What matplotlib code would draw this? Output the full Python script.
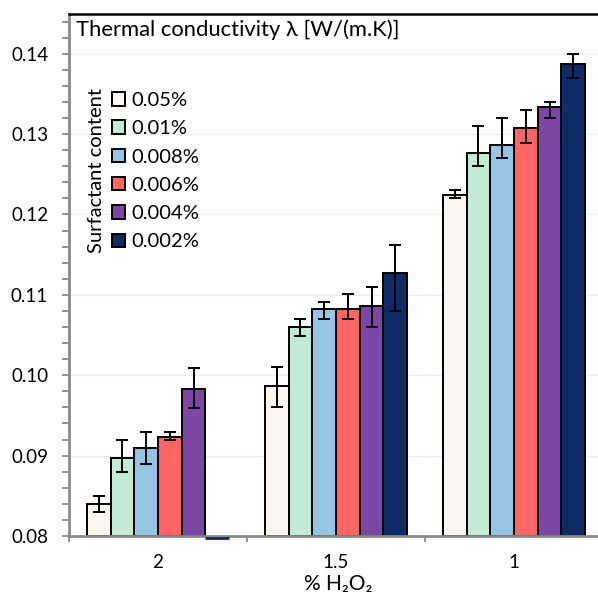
import numpy as np
import matplotlib
matplotlib.use("Agg")
import matplotlib.pyplot as plt

plt.rcParams['font.family'] = ['Lato', 'DejaVu Sans']

# H2O2 concentration groups (x categories)
h2o2 = ["2", "1.5", "1"]
# surfactant content series
surfactant = ["0.05%", "0.01%", "0.008%", "0.006%", "0.004%", "0.002%"]
colors = ["#fcf6f1", "#c2ead4", "#96c5e4", "#ff6565", "#7d45a5", "#0e2b67"]

# mean thermal conductivity, one list per surfactant content (order: 2, 1.5, 1 % H2O2)
k_005 = [0.0840, 0.0987, 0.1224]
k_001 = [0.0897, 0.1060, 0.1277]
k_0008 = [0.0910, 0.1083, 0.1287]
k_0006 = [0.0923, 0.1083, 0.1307]
k_0004 = [0.0983, 0.1086, 0.1334]
k_0002 = [0.0800, 0.1127, 0.1387]

# error bar upper ends
hi_005 = [0.0850, 0.1010, 0.1230]
hi_001 = [0.0920, 0.1070, 0.1310]
hi_0008 = [0.0930, 0.1091, 0.1320]
hi_0006 = [0.0930, 0.1101, 0.1330]
hi_0004 = [0.1009, 0.1110, 0.1340]
hi_0002 = [np.nan, 0.1162, 0.1400]

# error bar lower ends
lo_005 = [0.0830, 0.0960, 0.1220]
lo_001 = [0.0880, 0.1049, 0.1260]
lo_0008 = [0.0890, 0.1070, 0.1270]
lo_0006 = [0.0920, 0.1070, 0.1289]
lo_0004 = [0.0959, 0.1060, 0.1320]
lo_0002 = [np.nan, 0.1080, 0.1370]

means = [k_005, k_001, k_0008, k_0006, k_0004, k_0002]
highs = [hi_005, hi_001, hi_0008, hi_0006, hi_0004, hi_0002]
lows = [lo_005, lo_001, lo_0008, lo_0006, lo_0004, lo_0002]

y_floor, y_top = 0.08, 0.145

W, H = 598, 593
fig = plt.figure(figsize=(W / 100, H / 100), dpi=100)
ax = fig.add_axes([69 / W, 1 - 536 / H, 534 / W, (536 - 13.5) / H])

x = np.arange(len(h2o2))
n = len(surfactant)
bw = 0.8 / n

handles = []
for i, (lab, col, m, hi, lo) in enumerate(zip(surfactant, colors, means, highs, lows)):
    m = np.array(m)
    pos = x + (i - (n - 1) / 2) * bw
    b = ax.bar(pos, m - y_floor, bottom=y_floor, width=bw, color=col,
               edgecolor="black", linewidth=1.4, label=lab, zorder=2)
    handles.append(b)
    err = [m - np.array(lo), np.array(hi) - m]
    ax.errorbar(pos, m, yerr=err, fmt="none", ecolor="black",
                elinewidth=1.4, capsize=4.2, capthick=1.4, zorder=3)

ax.set_xlim(-0.5, len(h2o2) - 0.5)
ax.set_ylim(y_floor, y_top)

ax.set_yticks(np.arange(0.08, 0.1401, 0.01))
ax.set_yticklabels([f"{v:.2f}" for v in np.arange(0.08, 0.1401, 0.01)])
ax.set_yticks(np.arange(0.08, 0.1451, 0.002), minor=True)
ax.yaxis.grid(True, which="major", color="#ececec", linewidth=1.0, zorder=0)
ax.set_axisbelow(True)

ax.set_xticks(x)
ax.set_xticklabels(h2o2)
ax.set_xticks(np.arange(-0.5, len(h2o2), 0.5), minor=True)
ax.tick_params(axis="x", which="major", length=0, pad=13, labelsize=13.5)
ax.tick_params(axis="x", which="minor", length=4, width=1.3, color="#8a8a8a",
               direction="out")
ax.tick_params(axis="y", which="both", length=5, width=1.3, color="#8a8a8a",
               direction="out", labelsize=13.5, pad=10)

for s in ["left", "bottom"]:
    ax.spines[s].set_color("#8a8a8a")
    ax.spines[s].set_linewidth(2)
ax.spines["top"].set_color("black")
ax.spines["top"].set_linewidth(1.8)
ax.spines["right"].set_visible(False)

fig.text(76 / W, 1 - 30 / H, "Thermal conductivity λ [W/(m.K)]",
         fontsize=15.8, va="center", ha="left")
fig.text(338 / W, 1 - 584 / H, "% H₂O₂", fontsize=15, ha="center",
         va="center")

fig.text(96 / W, 1 - 170 / H, "Surfactant content", rotation=90,
         fontsize=14.5, ha="center", va="center")
ax.legend(handles=handles, loc="upper left", frameon=False,
          bbox_to_anchor=(112 / W, 1 - 92 / H), bbox_transform=fig.transFigure,
          borderpad=0, handlelength=0.65, handleheight=0.65, handletextpad=0.3,
          labelspacing=0.56, fontsize=14.5, borderaxespad=0)

# bars sitting exactly on the floor show as a flat line just under the axis
for b, col in zip(handles, colors):
    for r in b.patches:
        if r.get_height() == 0:
            r.set_edgecolor(col)
            r.set_linewidth(2)
            r.set_clip_on(False)
            r.set_y(y_floor - 0.00022)
            r.set_zorder(4)

fig.savefig("out.png", dpi=100)
